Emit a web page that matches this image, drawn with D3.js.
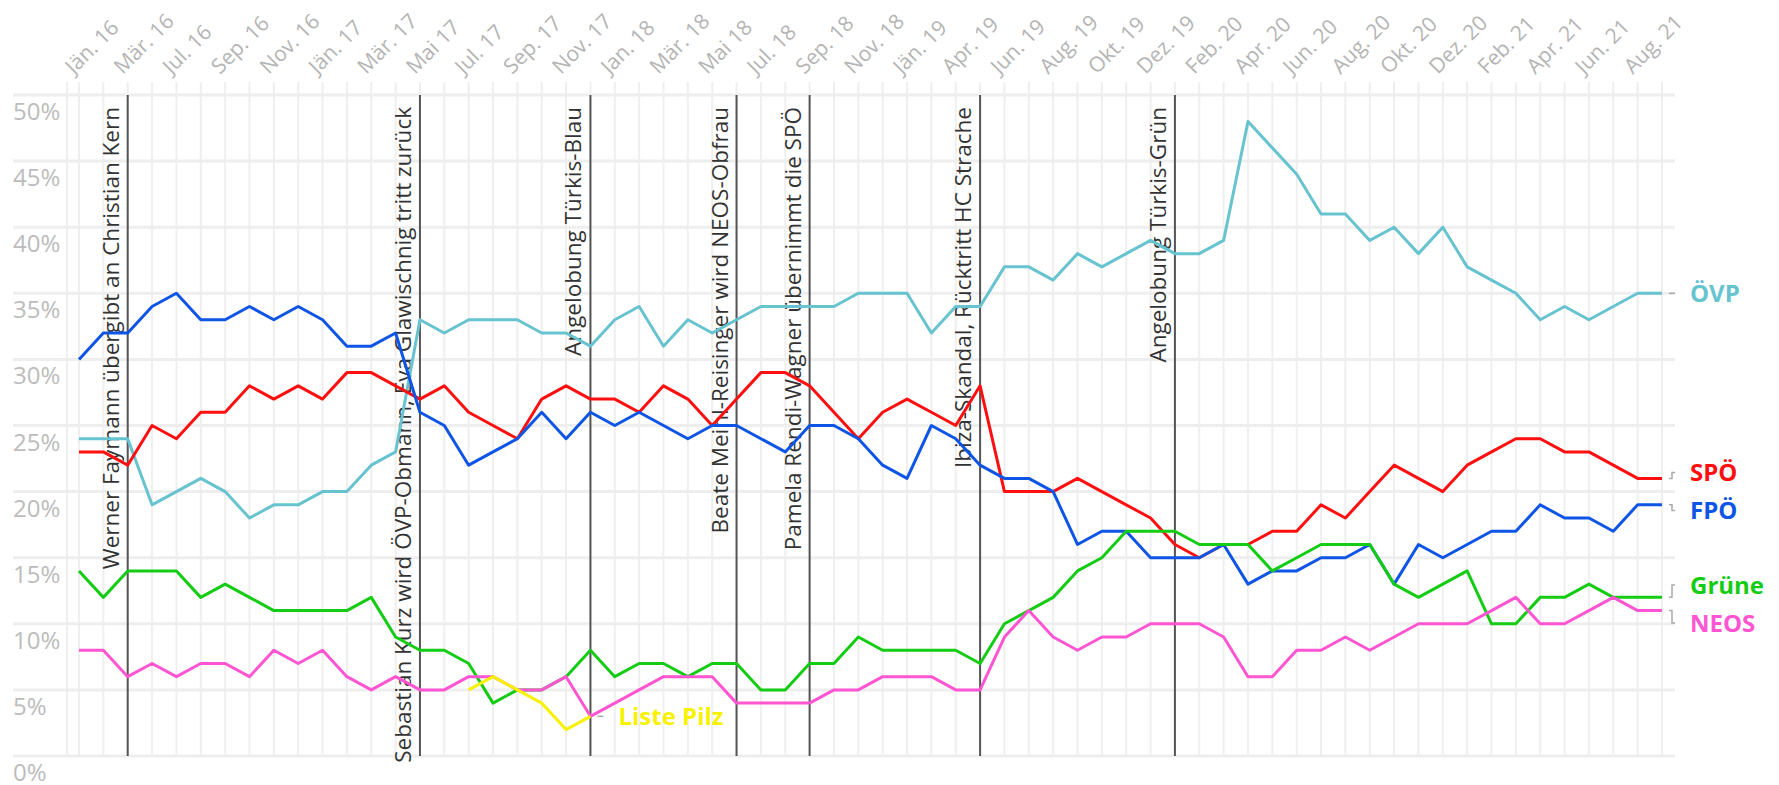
<!DOCTYPE html>
<html>
<head>
<meta charset="utf-8">
<script src="https://cdn.jsdelivr.net/npm/d3@7"></script>
<style>
  body { margin: 0; background: #fff; }
  text { font-family: "Open Sans", sans-serif; }
</style>
</head>
<body>
<div id="chart"></div>
<script>
// tick labels, one for every second survey point
var tickLabels = ["Jän. 16","Mär. 16","Jul. 16","Sep. 16","Nov. 16","Jän. 17","Mär. 17","Mai 17","Jul. 17","Sep. 17",
  "Nov. 17","Jan. 18","Mär. 18","Mai 18","Jul. 18","Sep. 18","Nov. 18","Jän. 19","Apr. 19","Jun. 19","Aug. 19",
  "Okt. 19","Dez. 19","Feb. 20","Apr. 20","Jun. 20","Aug. 20","Okt. 20","Dez. 20","Feb. 21","Apr. 21","Jun. 21","Aug. 21"];

var oevp = [24,24,24,19,20,21,20,18,19,19,20,20,22,23,33,32,33,33,33,32,32,31,
  33,34,31,33,32,33,34,34,34,34,35,35,35,32,34,34,37,37,36,38,37,38,39,38,
  38,39,48,46,44,41,41,39,40,38,40,37,36,35,33,34,33,34,35,35];
var spoe = [23,23,22,25,24,26,26,28,27,28,27,29,29,28,27,28,26,25,24,27,28,27,
  27,26,28,27,25,27,29,29,28,26,24,26,27,26,25,28,20,20,20,21,20,19,18,16,
  15,16,16,17,17,19,18,20,22,21,20,22,23,24,24,23,23,22,21,21];
var fpoe = [30,32,32,34,35,33,33,34,33,34,33,31,31,32,26,25,22,23,24,26,24,26,
  25,26,25,24,25,25,24,23,25,25,24,22,21,25,24,22,21,21,20,16,17,17,15,15,
  15,16,13,14,14,15,15,16,13,16,15,16,17,17,19,18,18,17,19,19];
var gruene = [14,12,14,14,14,12,13,12,11,11,11,11,12,9,8,8,7,4,5,5,6,8,
  6,7,7,6,7,7,5,5,7,7,9,8,8,8,8,7,10,11,12,14,15,17,17,17,
  16,16,16,14,15,16,16,16,13,12,13,14,10,10,12,12,13,12,12,12];
var neos = [8,8,6,7,6,7,7,6,8,7,8,6,5,6,5,5,6,6,5,5,6,3,
  4,5,6,6,6,4,4,4,4,5,5,6,6,6,5,5,9,11,9,8,9,9,10,10,
  10,9,6,6,8,8,9,8,9,10,10,10,11,12,10,10,11,12,11,11];
var pilz = [null,null,null,null,null,null,null,null,null,null,null,null,null,null,null,null,5,6,5,4,2,3,
  null,null,null,null,null,null,null,null,null,null,null,null,null,null,null,null,null,null,null,null,null,null,null,null,
  null,null,null,null,null,null,null,null,null,null,null,null,null,null,null,null,null,null,null,null];

var partyNames = ["ÖVP","SPÖ","FPÖ","Grüne","NEOS","Liste Pilz"];
var partyColors = ["#66c3cf","#ff0f0f","#0e55e6","#13cc13","#ff55d2","#f7f200"];

var eventIndex = [2,14,21,27,30,37,45];
var eventLabels = ["Werner Faymann übergibt an Christian Kern",
  "Sebastian Kurz wird ÖVP-Obmann, Eva Glawischnig tritt zurück",
  "Angelobung Türkis-Blau",
  "Beate Meinl-Reisinger wird NEOS-Obfrau",
  "Pamela Rendi-Wagner übernimmt die SPÖ",
  "Ibiza-Skandal, Rücktritt HC Strache",
  "Angelobung Türkis-Grün"];

var yTicks = [0,5,10,15,20,25,30,35,40,45,50];

var width = 1779, height = 785;
var series = [oevp, spoe, fpoe, gruene, neos, pilz];

var x = d3.scalePoint().domain(d3.range(oevp.length)).range([79, 1662]);
var y = d3.scaleLinear().domain([0, 50]).range([756, 95]);

var svg = d3.select('#chart').append('svg')
  .attr('width', width)
  .attr('height', height);

// grid
var grid = svg.append('g').attr('class', 'grid');
grid.append('line')
  .attr('x1', x(0) - 12).attr('x2', x(0) - 12)
  .attr('y1', 82).attr('y2', y(0))
  .style('stroke', '#efefef').style('stroke-width', 2);
grid.selectAll('.vgrid')
  .data(x.domain())
  .enter().append('line')
  .attr('class', 'vgrid')
  .attr('x1', function(d) { return x(d); })
  .attr('x2', function(d) { return x(d); })
  .attr('y1', 82).attr('y2', y(0))
  .style('stroke', '#efefef').style('stroke-width', 2);
grid.selectAll('.hgrid')
  .data(yTicks)
  .enter().append('line')
  .attr('class', 'hgrid')
  .attr('x1', 13).attr('x2', 1675)
  .attr('y1', function(d) { return y(d); })
  .attr('y2', function(d) { return y(d); })
  .style('stroke', '#eeeeee').style('stroke-width', 3);

// y labels sit a little below their grid line
svg.selectAll('.ylabel')
  .data(yTicks)
  .enter().append('text')
  .attr('class', 'ylabel')
  .attr('x', 13)
  .attr('y', function(d) { return y(d) + 25; })
  .style('font-size', '24px')
  .style('fill', '#bcbcbc')
  .text(function(d) { return d + '%'; });

// x labels, rotated
svg.selectAll('.xlabel')
  .data(tickLabels)
  .enter().append('text')
  .attr('class', 'xlabel')
  .attr('transform', function(d, i) {
    return 'translate(' + (x(i * 2) - 5) + ',75) rotate(-45)';
  })
  .style('font-size', '21px')
  .style('fill', '#b4b4b4')
  .text(function(d) { return d; });

// events
var ev = svg.selectAll('.event')
  .data(eventIndex)
  .enter().append('g')
  .attr('class', 'event');
ev.append('line')
  .attr('x1', function(d) { return x(d); })
  .attr('x2', function(d) { return x(d); })
  .attr('y1', y(50)).attr('y2', y(0))
  .style('stroke', '#555').style('stroke-width', 2);
ev.append('text')
  .attr('transform', function(d) { return 'translate(' + (x(d) - 9) + ',107) rotate(-90)'; })
  .attr('text-anchor', 'end')
  .style('font-size', '22.5px')
  .style('fill', '#333')
  .text(function(d, i) { return eventLabels[i]; });

// party lines
var line = d3.line()
  .defined(function(d) { return d != null; })
  .x(function(d, i) { return x(i); })
  .y(function(d) { return y(d); });

svg.selectAll('.party')
  .data(series)
  .enter().append('path')
  .attr('class', 'party')
  .attr('d', line)
  .style('fill', 'none')
  .style('stroke', function(d, i) { return partyColors[i]; })
  .style('stroke-width', 3)
  .style('stroke-linejoin', 'round');

// end labels, pushed apart where they collide
var labels = series.map(function(s, i) {
  var last = d3.max(d3.range(s.length).filter(function(k) { return s[k] != null; }));
  return {name: partyNames[i], color: partyColors[i], x: x(last), y0: y(s[last]), y: y(s[last])};
});
var minGap = 38;
for (var iter = 0; iter < 50; iter++) {
  var sorted = labels.slice().sort(function(a, b) { return a.y - b.y; });
  for (var k = 1; k < sorted.length; k++) {
    var a = sorted[k - 1], b = sorted[k];
    if (Math.abs(a.x - b.x) > 1) continue;
    var overlap = minGap - (b.y - a.y);
    if (overlap > 0) { a.y -= overlap / 2; b.y += overlap / 2; }
  }
}

var lab = svg.selectAll('.endlabel')
  .data(labels)
  .enter().append('g')
  .attr('class', 'endlabel');
lab.append('path')
  .attr('d', function(d) {
    if (Math.abs(d.y - d.y0) < 1) return 'M' + (d.x + 7) + ',' + d.y0 + 'H' + (d.x + 13);
    return 'M' + (d.x + 7) + ',' + d.y0 + 'H' + (d.x + 10) + 'V' + d.y + 'H' + (d.x + 13);
  })
  .style('fill', 'none')
  .style('stroke', '#aaa')
  .style('stroke-width', 1.5);
lab.append('text')
  .attr('x', function(d) { return d.x + 28; })
  .attr('y', function(d) { return d.y; })
  .attr('dy', '0.36em')
  .style('font-size', '24px')
  .style('font-weight', 'bold')
  .style('fill', function(d) { return d.color; })
  .text(function(d) { return d.name; });
</script>
</body>
</html>
